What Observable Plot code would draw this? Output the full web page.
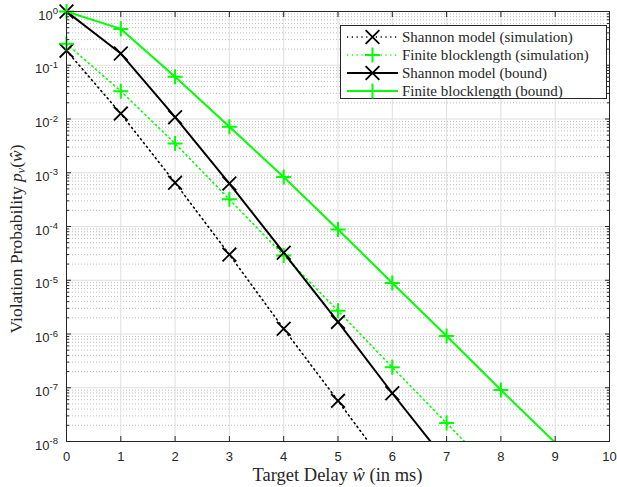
<!DOCTYPE html>
<html><head><meta charset="utf-8">
<script src="https://cdn.jsdelivr.net/npm/d3@7"></script>
<script src="https://cdn.jsdelivr.net/npm/@observablehq/plot@0.6"></script>
<style>
body{margin:0;background:#fff;}
#wrap{position:relative;width:617px;height:487px;}
</style></head><body><div id="wrap"></div>
<script>
// ---- data ----
const delays = [0, 1, 2, 3, 4, 5, 6, 7, 8, 9];
const shannonSim   = [0.187, 0.0126, 6.5e-4, 3.0e-5, 1.25e-6, 5.7e-8, 2.5e-9];
const finiteSim    = [0.25, 0.033, 3.5e-3, 3.2e-4, 2.9e-5, 2.7e-6, 2.4e-7, 2.2e-8, 2.0e-9];
const shannonBound = [1.0, 0.165, 0.0108, 6.3e-4, 3.25e-5, 1.68e-6, 7.9e-8, 4.2e-9];
const finiteBound  = [1.0, 0.475, 0.061, 7.2e-3, 8.3e-4, 8.8e-5, 8.9e-6, 9.2e-7, 9.1e-8, 9.5e-9];
const seriesNames  = ["Shannon model (simulation)", "Finite blocklength (simulation)", "Shannon model (bound)", "Finite blocklength (bound)"];
const xTicks = [0, 1, 2, 3, 4, 5, 6, 7, 8, 9, 10];
const yExponents = [0, -1, -2, -3, -4, -5, -6, -7, -8];

const decades = yExponents.map(e => Math.pow(10, e));
const minorTicks = [];
yExponents.slice(1).forEach(e => { for (let m = 2; m <= 9; m++) minorTicks.push(m * Math.pow(10, e)); });

const styles = [
  {color: "#000000", dash: "1.2,3.6", width: 1.6, symbol: "times", r: 6.3, sw: 1.8},
  {color: "#00ff00", dash: "1.2,3.6", width: 1.6, symbol: "plus", r: 4.9, sw: 2},
  {color: "#000000", dash: null, width: 2, symbol: "times", r: 6.3, sw: 1.8},
  {color: "#00ff00", dash: null, width: 2, symbol: "plus", r: 4.9, sw: 2}
];
const allSeries = [shannonSim, finiteSim, shannonBound, finiteBound];
const rows = allSeries.map((vals, k) => vals.map((v, i) => ({s: k, x: delays[i], y: v})));

const marks = [
  Plot.ruleY(minorTicks, {stroke: "#bcbcbc", strokeWidth: 1, strokeDasharray: "1,2"}),
  Plot.ruleY(decades, {stroke: "#dfdfdf", strokeWidth: 1}),
  Plot.ruleX(xTicks, {stroke: "#dfdfdf", strokeWidth: 1}),
];
rows.forEach((r, k) => {
  const st = styles[k];
  marks.push(Plot.line(r, {x: "x", y: "y", stroke: st.color, strokeWidth: st.width, strokeDasharray: st.dash, clip: true}));
});
rows.forEach((r, k) => {
  const st = styles[k];
  marks.push(Plot.dot(r.filter(d => d.y >= 1e-8 && d.y <= 1), {x: "x", y: "y", symbol: st.symbol, r: st.r, stroke: st.color, strokeWidth: st.sw}));
});
marks.push(
  Plot.frame({stroke: "#262626", strokeWidth: 1}),
  Plot.axisX({anchor: "bottom", ticks: xTicks, tickSize: -5, tickFormat: () => "", stroke: "#262626"}),
  Plot.axisX({anchor: "top", ticks: xTicks, tickSize: -5, tickFormat: () => "", stroke: "#262626"}),
  Plot.axisX({anchor: "bottom", ticks: xTicks, tickSize: 0, tickPadding: 10, fill: "#262626"}),
  Plot.axisY({anchor: "left", ticks: decades, tickSize: -5, tickFormat: () => "", stroke: "#262626"}),
  Plot.axisY({anchor: "right", ticks: decades, tickSize: -5, tickFormat: () => "", stroke: "#262626"}),
  Plot.axisY({anchor: "left", ticks: minorTicks, tickSize: -3, tickFormat: () => "", stroke: "#262626"}),
  Plot.axisY({anchor: "right", ticks: minorTicks, tickSize: -3, tickFormat: () => "", stroke: "#262626"})
);

const chart = Plot.plot({
  width: 617, height: 487,
  marginLeft: 66, marginRight: 8, marginTop: 11, marginBottom: 46,
  style: {fontFamily: "'Liberation Sans', Arial, sans-serif", fontSize: "13px", color: "#262626", background: "white"},
  x: {domain: [0, 10], label: null},
  y: {type: "log", domain: [1e-8, 1], label: null},
  marks
});
document.getElementById("wrap").appendChild(chart);

const svg = d3.select(chart);
svg.selectAll('g[aria-label="x-axis tick label"]').attr("font-size", 13).selectAll("text").attr("font-size", 13);
const yS = chart.scale("y");
const xS = chart.scale("x");

// y tick labels with superscripts
const gl = svg.append("g").attr("font-family", "'Liberation Sans', Arial, sans-serif").attr("fill", "#262626");
yExponents.forEach(e => {
  const y = yS.apply(Math.pow(10, e));
  const t = gl.append("text").attr("x", 58).attr("y", y + 8.5).attr("text-anchor", "end").attr("font-size", 13);
  t.append("tspan").text("10");
  t.append("tspan").attr("dy", -5.5).attr("font-size", 9.5).text(e === 0 ? "0" : "-" + (-e));
});

// axis labels (serif, LaTeX-like)
const serif = "'Liberation Serif', 'Times New Roman', serif";
const xl = svg.append("text").attr("x", (xS.apply(0) + xS.apply(10)) / 2).attr("y", 481)
  .attr("text-anchor", "middle").attr("font-family", serif).attr("font-size", 18.5).attr("fill", "#262626");
xl.append("tspan").text("Target Delay ");
xl.append("tspan").attr("font-style", "italic").text("ŵ");
xl.append("tspan").text(" (in ms)");

const ymid = (yS.apply(1) + yS.apply(1e-8)) / 2;
const yl = svg.append("text").attr("transform", `translate(22,${ymid + 13}) rotate(-90)`)
  .attr("text-anchor", "middle").attr("font-family", serif).attr("font-size", 17.5).attr("fill", "#262626");
yl.append("tspan").text("Violation Probability ");
yl.append("tspan").attr("font-style", "italic").text("p");
yl.append("tspan").attr("font-style", "italic").attr("font-size", 12).attr("dy", 3).text("v");
yl.append("tspan").attr("dy", -3).text("(");
yl.append("tspan").attr("font-style", "italic").text("ŵ");
yl.append("tspan").text(")");

// legend
const lg = svg.append("g");
lg.append("rect").attr("x", 340.5).attr("y", 25.5).attr("width", 266).attr("height", 73)
  .attr("fill", "white").attr("stroke", "#262626").attr("stroke-width", 1);
seriesNames.forEach((name, k) => {
  const st = styles[k];
  const cy = 37 + k * 18;
  lg.append("line").attr("x1", 347).attr("x2", 398).attr("y1", cy).attr("y2", cy)
    .attr("stroke", st.color).attr("stroke-width", st.width).attr("stroke-dasharray", st.dash);
  const sym = st.symbol === "times" ? d3.symbolTimes : d3.symbolPlus;
  lg.append("path").attr("transform", `translate(372.5,${cy})`)
    .attr("d", d3.symbol(sym, Math.PI * st.r * st.r)())
    .attr("fill", "none").attr("stroke", st.color).attr("stroke-width", st.sw);
  lg.append("text").attr("x", 402).attr("y", cy + 5).attr("text-anchor", "start").attr("font-family", serif).attr("font-size", 15)
    .attr("fill", "#262626").text(name);
});
</script></body></html>
